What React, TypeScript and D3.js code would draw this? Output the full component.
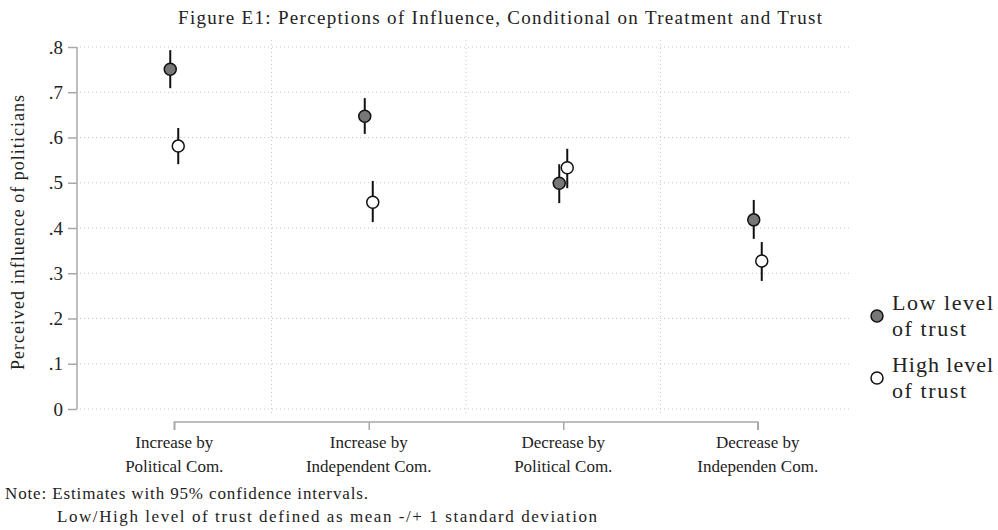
import * as d3 from 'd3';
import { useEffect, useRef } from 'react';

const categories = ['Increase by|Political Com.', 'Increase by|Independent Com.', 'Decrease by|Political Com.', 'Decrease by|Independen Com.'];
const lowMean = [0.751, 0.647, 0.499, 0.418];
const lowLo = [0.709, 0.608, 0.455, 0.376];
const lowHi = [0.793, 0.687, 0.541, 0.462];
const highMean = [0.581, 0.457, 0.533, 0.327];
const highLo = [0.541, 0.413, 0.488, 0.283];
const highHi = [0.621, 0.504, 0.575, 0.369];
const yTicks = [0, 0.1, 0.2, 0.3, 0.4, 0.5, 0.6, 0.7, 0.8];
const yTickLabels = ['0', '.1', '.2', '.3', '.4', '.5', '.6', '.7', '.8'];

const FONT = '"Liberation Serif", "DejaVu Serif", serif';

export default function App() {
    const svgRef = useRef<SVGSVGElement>(null);
    const width = 998;
    const height = 530;

    useEffect(() => {
        const svg = d3.select(svgRef.current);
        svg.selectAll('*').remove();

        const x = d3.scaleLinear().domain([0.5, 4.5]).range([77, 855]);
        const y = d3.scaleLinear().domain([0, 0.8]).range([409, 47]);
        const plotRight = 850;
        const plotTop = 40;
        const plotBottom = 414;

        svg.append('rect').attr('width', width).attr('height', height).attr('fill', 'white');

        // grid
        svg.append('g')
            .selectAll('line')
            .data(yTicks)
            .enter()
            .append('line')
            .attr('x1', 80)
            .attr('x2', plotRight)
            .attr('y1', (d) => y(d))
            .attr('y2', (d) => y(d))
            .attr('stroke', '#c8c8c8')
            .attr('stroke-width', 1)
            .attr('stroke-dasharray', '1,3');

        svg.append('g')
            .selectAll('line')
            .data([1.5, 2.5, 3.5])
            .enter()
            .append('line')
            .attr('x1', (d) => x(d))
            .attr('x2', (d) => x(d))
            .attr('y1', plotTop)
            .attr('y2', plotBottom)
            .attr('stroke', '#c8c8c8')
            .attr('stroke-width', 1)
            .attr('stroke-dasharray', '1,3');

        // y axis
        const yAxis = svg.append('g')
            .attr('transform', 'translate(77,0)')
            .call(d3.axisLeft(y).tickValues(yTicks).tickSize(9).tickFormat((d, i) => yTickLabels[i]));
        yAxis.select('.domain').attr('stroke', '#a8a8a8').attr('stroke-width', 1.5).attr('d', `M0,${y(0)}V${y(0.8)}`);
        yAxis.selectAll('.tick line').attr('stroke', '#a8a8a8').attr('stroke-width', 1.5);
        yAxis.selectAll('.tick text')
            .attr('x', -14)
            .style('font-family', FONT)
            .style('font-size', '19px')
            .attr('fill', '#222');

        svg.append('text')
            .attr('transform', `translate(24,${(95 + 370) / 2}) rotate(-90)`)
            .attr('text-anchor', 'middle')
            .attr('textLength', 275)
            .attr('lengthAdjust', 'spacing')
            .style('font-family', FONT)
            .style('font-size', '18px')
            .attr('fill', '#222')
            .text('Perceived influence of politicians');

        // x axis bracket
        const xAxis = svg.append('g')
            .attr('transform', 'translate(0,422)')
            .call(d3.axisBottom(x).tickValues([1, 2, 3, 4]).tickSize(8).tickFormat(() => ''));
        xAxis.select('.domain').attr('stroke', '#a8a8a8').attr('stroke-width', 1.5).attr('d', `M${x(1)},8V0H${x(4)}V8`);
        xAxis.selectAll('.tick line').attr('stroke', '#a8a8a8').attr('stroke-width', 1.5);

        const labels = svg.append('g');
        categories.forEach((c, i) => {
            const parts = c.split('|');
            parts.forEach((p, j) => {
                labels.append('text')
                    .attr('x', x(i + 1))
                    .attr('y', 448 + j * 24)
                    .attr('text-anchor', 'middle')
                    .style('font-family', FONT)
                    .style('font-size', '17px')
                    .attr('fill', '#222')
                    .text(p);
            });
        });

        // series
        const series = [
            { mean: lowMean, lo: lowLo, hi: lowHi, off: -4, fill: '#777777' },
            { mean: highMean, lo: highLo, hi: highHi, off: 4, fill: '#ffffff' },
        ];
        series.forEach((s) => {
            const g = svg.append('g');
            g.selectAll('line')
                .data(s.mean)
                .enter()
                .append('line')
                .attr('x1', (d, i) => x(i + 1) + s.off)
                .attr('x2', (d, i) => x(i + 1) + s.off)
                .attr('y1', (d, i) => y(s.lo[i]))
                .attr('y2', (d, i) => y(s.hi[i]))
                .attr('stroke', '#111')
                .attr('stroke-width', 2);
            g.selectAll('circle')
                .data(s.mean)
                .enter()
                .append('circle')
                .attr('cx', (d, i) => x(i + 1) + s.off)
                .attr('cy', (d) => y(d))
                .attr('r', 6)
                .attr('fill', s.fill)
                .attr('stroke', '#111')
                .attr('stroke-width', 1.5);
        });

        // legend
        const legend = [
            { fill: '#777777', lines: ['Low level', 'of trust'], cy: 316 },
            { fill: '#ffffff', lines: ['High level', 'of trust'], cy: 378 },
        ];
        legend.forEach((l) => {
            svg.append('circle')
                .attr('cx', 877)
                .attr('cy', l.cy)
                .attr('r', 6)
                .attr('fill', l.fill)
                .attr('stroke', '#111')
                .attr('stroke-width', 1.5);
            l.lines.forEach((t, j) => {
                svg.append('text')
                    .attr('x', 892)
                    .attr('y', l.cy - 6 + j * 26)
                    .attr('textLength', j === 0 ? 101 : 74)
                    .attr('lengthAdjust', 'spacing')
                    .style('font-family', FONT)
                    .style('font-size', '22px')
                    .attr('fill', '#222')
                    .text(t);
            });
        });

        // title
        svg.append('text')
            .attr('x', 500)
            .attr('y', 24)
            .attr('text-anchor', 'middle')
            .attr('textLength', 644)
            .attr('lengthAdjust', 'spacing')
            .style('font-family', FONT)
            .style('font-size', '19px')
            .attr('fill', '#222')
            .text('Figure E1: Perceptions of Influence, Conditional on Treatment and Trust');

        // note
        svg.append('text')
            .attr('x', 5)
            .attr('y', 499)
            .attr('textLength', 363)
            .attr('lengthAdjust', 'spacing')
            .style('font-family', FONT)
            .style('font-size', '17px')
            .attr('fill', '#222')
            .text('Note: Estimates with 95% confidence intervals.');
        svg.append('text')
            .attr('x', 57)
            .attr('y', 522)
            .attr('textLength', 540)
            .attr('lengthAdjust', 'spacing')
            .style('font-family', FONT)
            .style('font-size', '17px')
            .attr('fill', '#222')
            .text('Low/High level of trust defined as mean -/+ 1 standard deviation');
    }, []);

    return (
        <svg ref={svgRef} width={width} height={height} style={{ position: 'absolute', left: 0, top: 0 }}></svg>
    );
}
